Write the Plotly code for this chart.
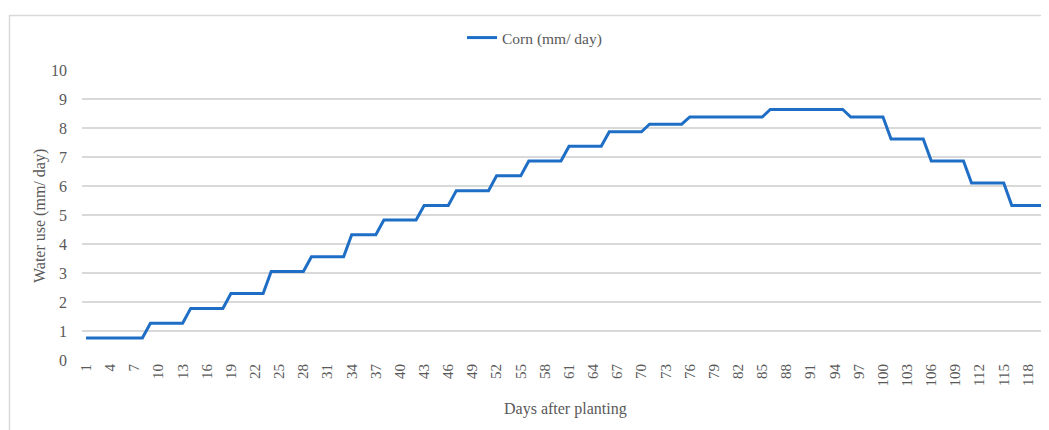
"""Corn daily water use by days after planting."""
import plotly.graph_objects as go

# ── data ─────────────────────────────────────────────────────────────
# each step value (mm/day) and how many days it lasts
step_values = [0.76, 1.27, 1.78, 2.29, 3.05, 3.56, 4.32, 4.83, 5.33, 5.84,
               6.35, 6.86, 7.37, 7.87, 8.13, 8.38, 8.64, 8.38, 7.62, 6.86,
               6.10, 5.33]
step_days = [8, 5, 5, 5, 5, 5, 4, 5, 4, 5,
             4, 5, 5, 5, 5, 10, 10, 5, 5, 5,
             5, 5]
tick_days = list(range(1, 121, 3))
y_ticks = list(range(0, 11))

days = []
corn = []
d = 1
for v, n in zip(step_values, step_days):
    for _ in range(n):
        days.append(d)
        corn.append(v)
        d += 1

TEXT = "#595959"
GRID = "#D9D9D9"
FONT = "Liberation Serif, DejaVu Serif, serif"

# the page body adds an 8px margin, so the figure is drawn 8px smaller
OFF = 8
FW, FH = 1049 - OFF, 430 - OFF
# plot area in window pixels: x 82..1048, y 70..360
L, R, T, B = 82 - OFF, 1048 - OFF, 70 - OFF, 360 - OFF
W, H = R - L, B - T


def px_x(p):
    return (p - OFF - L) / W


def px_y(p):
    return (B - (p - OFF)) / H


fig = go.Figure()
fig.add_trace(go.Scatter(
    x=days, y=corn, mode="lines",
    line=dict(color="#1F6EC5", width=3),
    name="Corn (mm/ day)",
))

fig.update_layout(
    width=FW, height=FH,
    paper_bgcolor="white", plot_bgcolor="white",
    font=dict(family=FONT, color=TEXT, size=14),
    margin=dict(l=L, r=FW - R, t=T, b=FH - B, autoexpand=False),
    showlegend=True,
    legend=dict(
        orientation="h", x=px_x(462), y=px_y(21), xanchor="left", yanchor="top",
        bgcolor="rgba(0,0,0,0)", font=dict(size=15.5, color=TEXT),
    ),
    shapes=[dict(
        type="rect", xref="paper", yref="paper",
        x0=px_x(9.5), x1=px_x(1060), y0=px_y(445), y1=px_y(15.5),
        line=dict(color=GRID, width=1.5), layer="below",
    )],
    annotations=[
        dict(text="Days after planting", xref="paper", yref="paper",
             x=px_x(565), y=px_y(409), showarrow=False,
             xanchor="center", yanchor="middle", font=dict(size=16, color=TEXT)),
        dict(text="Water use (mm/ day)", xref="paper", yref="paper",
             x=px_x(40), y=px_y(216), showarrow=False, textangle=-90,
             xanchor="center", yanchor="middle", font=dict(size=16, color=TEXT)),
    ],
)
fig.update_xaxes(
    range=[0.5, 120.5], tickvals=tick_days, ticktext=[str(t) for t in tick_days],
    tickangle=-90, tickfont=dict(size=15, color=TEXT), automargin=False,
    showgrid=False, zeroline=False, showline=False, ticks="",
)
fig.update_yaxes(
    range=[0, 10], tickvals=y_ticks, tickfont=dict(size=16, color=TEXT),
    showgrid=True, gridcolor=GRID, gridwidth=1.5, zeroline=False, showline=False,
    ticks="", ticklabelstandoff=14, automargin=False,
)

fig.write_html("out.html")
